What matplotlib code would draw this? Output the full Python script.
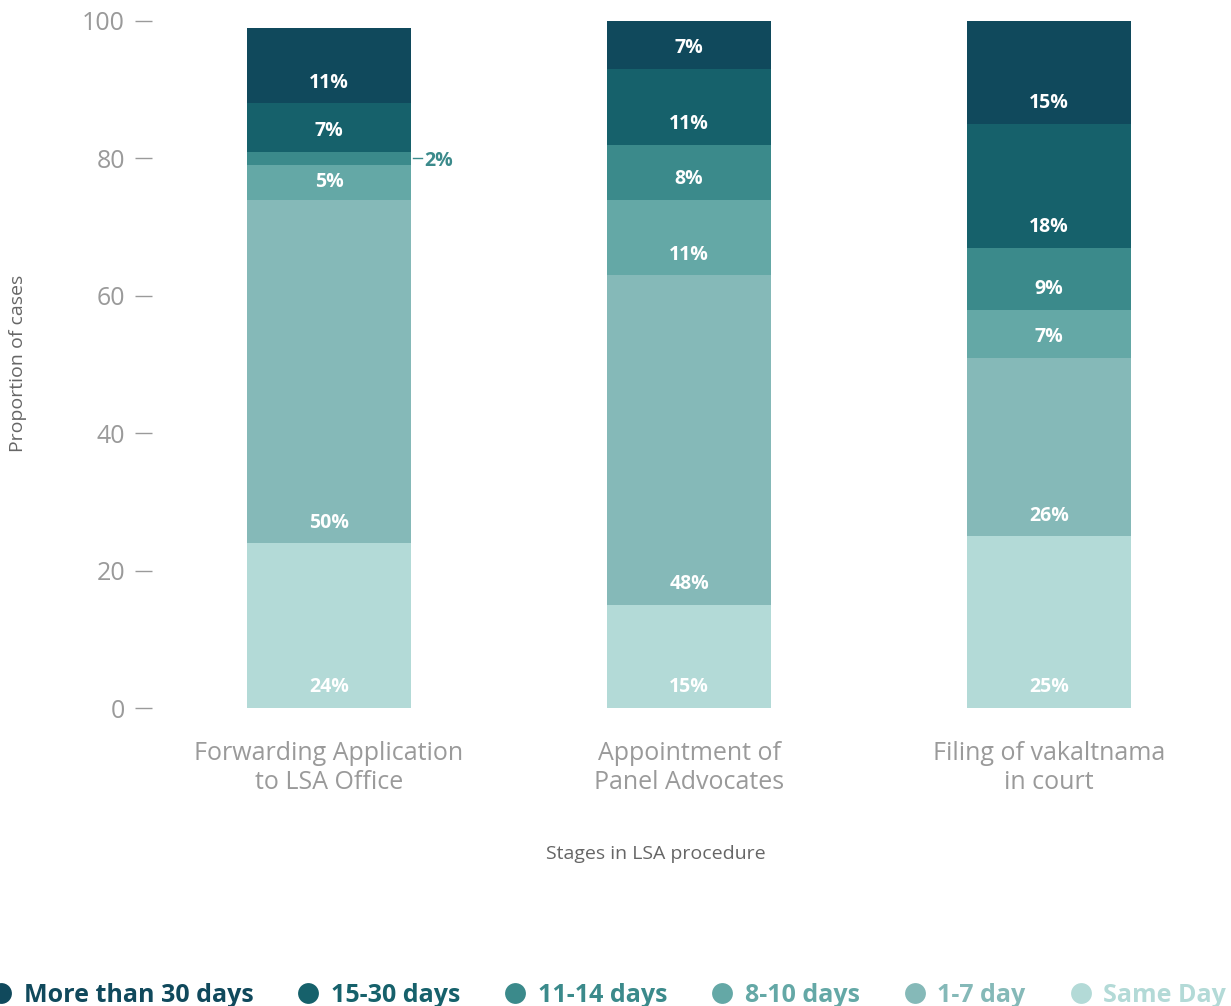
import matplotlib.pyplot as plt
import numpy as np

plt.rcParams["font.family"] = ["Open Sans", "DejaVu Sans"]

# === Data ===
stages = ["Forwarding Application\nto LSA Office", "Appointment of\nPanel Advocates", "Filing of vakaltnama\nin court"]
categories = ["Same Day", "1-7 day", "8-10 days", "11-14 days", "15-30 days", "More than 30 days"]
same_day = [24, 15, 25]
one_to_seven = [50, 48, 26]
eight_to_ten = [5, 11, 7]
eleven_to_fourteen = [2, 8, 9]
fifteen_to_thirty = [7, 11, 18]
over_thirty = [11, 7, 15]
yticks = [0, 20, 40, 60, 80, 100]

series = [same_day, one_to_seven, eight_to_ten, eleven_to_fourteen, fifteen_to_thirty, over_thirty]
colors = ["#b3dad7", "#85b9b8", "#64a8a6", "#3b8a8b", "#16616b", "#10495c"]
grey = "#9a9a9a"
bar_width = 0.458

# === Plot ===
fig = plt.figure(figsize=(12.31, 10.06), dpi=100)
ax = fig.add_axes([152 / 1231, 1 - 708 / 1006, (1226 - 152) / 1231, (708 - 21) / 1006])

x = np.arange(len(stages))
bottom = np.zeros(len(stages))
for vals, color in zip(series, colors):
    vals = np.array(vals, dtype=float)
    ax.bar(x, vals, bottom=bottom, width=bar_width, color=color, linewidth=0)
    for xi, b, v in zip(x, bottom, vals):
        if v < 3:
            # small slice: label outside the bar with a short leader line
            edge = xi + bar_width / 2
            ax.plot([edge + 0.003, edge + 0.028], [b + v / 2] * 2, color=color, lw=1)
            ax.text(edge + 0.036, b + v / 2, f"{int(v)}%", va="center_baseline", ha="left",
                    color=color, fontsize=14, fontweight="bold")
        else:
            ax.text(xi, b + min(3.0, v / 2), f"{int(v)}%", ha="center", va="center",
                    color="white", fontsize=14, fontweight="bold")
    bottom += vals

ax.set_xlim(-0.4917, 2.4917)
ax.set_ylim(0, 100)
ax.set_yticks(yticks)
ax.set_xticks(x)
ax.set_xticklabels(stages, fontsize=18, color=grey, linespacing=1.2)
ax.tick_params(axis="x", length=0, pad=24)
ax.tick_params(axis="y", length=12.5, width=1, color=grey, labelcolor=grey, labelsize=18, pad=7)
for s in ax.spines.values():
    s.set_visible(False)

ax.set_xlabel("Stages in LSA procedure", fontsize=14, color="#666666")
ax.xaxis.set_label_coords((656 - 152) / 1074, (708 - 845) / 687)
fig.text(18 / 1231, 1 - 363 / 1006, "Proportion of cases", rotation=90, ha="center", va="center",
         fontsize=14, color="#666666")

# === Legend ===
handles = [plt.Line2D([], [], marker="o", ls="", markersize=15, color=c, markeredgewidth=0)
           for c in colors[::-1]]
fig.legend(handles, categories[::-1], loc="center", bbox_to_anchor=(606 / 1231, 1 - 995 / 1006),
           ncol=6, frameon=False, labelcolor=colors[::-1], prop={"size": 18, "weight": "bold"},
           handletextpad=0.3, columnspacing=1.6, handlelength=1.2)

fig.savefig("out.png", dpi=100)
